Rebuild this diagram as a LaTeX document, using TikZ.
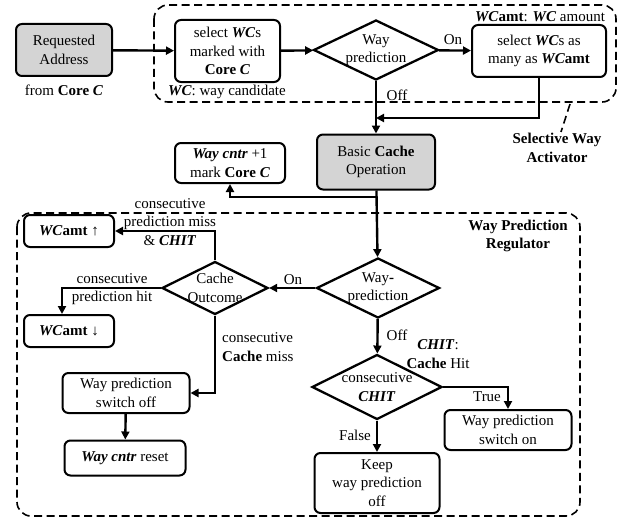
\documentclass[tikz,border=0pt]{standalone}
\usepackage{fontspec}
\setmainfont{Liberation Serif}
\usetikzlibrary{shapes.geometric,arrows.meta}
\newcommand{\bi}[1]{\textbf{\textit{#1}}}
\begin{document}
\begin{tikzpicture}[x=1pt,y=-1pt,
  every node/.style={font=\fontsize{15}{18.5}\selectfont, align=center, inner sep=1pt},
  blk/.style={draw, rounded corners=6pt, line width=2pt, inner sep=2pt},
  dec/.style={draw, diamond, line width=2.3pt, inner sep=0pt},
  arr/.style={line width=2.4pt, -{Triangle[length=8pt,width=8pt]}},
  grp/.style={line width=1.6pt, dash pattern=on 8pt off 4.5pt, rounded corners=14pt}]

        \useasboundingbox (0,0) rectangle (621,519);

        % dashed groups
        \draw[grp] (154,5) rectangle (616,102);
        \draw[grp] (570,104) -- (561,132);
        \draw[grp] (17,213) rectangle (580,516);

        % selective way activator
        \begin{scope}[every node/.append style={blk}]
          \node[fill=black!17, minimum width=96, minimum height=52] (req) at (64,50) {Requested\\Address};
          \node[minimum width=105, minimum height=62] (selwc) at (227.5,51) {select \bi{WC}s\\marked with\\\textbf{Core \textit{C}}};
          \node[minimum width=134, minimum height=52] (selamt) at (539,51) {select \bi{WC}s as\\many as \bi{WC}\textbf{amt}};
          \node[fill=black!17, minimum width=118, minimum height=55] (basic) at (376,162) {Basic \textbf{Cache}\\Operation};
          \node[minimum width=110, minimum height=40] (cntr) at (230,163) {\bi{Way cntr} +1\\mark \textbf{Core \textit{C}}};
        \end{scope}
        \node[dec, minimum width=125, minimum height=60, label={[name=wp1t]center:Way\\prediction}] (wp1) at (376,50) {};

        \node (from) at (64,90) {from \textbf{Core \textit{C}}};
        \node (wcnote) at (227,92) {\bi{WC}: way candidate};
        \node (amtnote) at (540,17) {\bi{WC}\textbf{amt}: \bi{WC} amount};
        \node (on1) at (453,40) {On};
        \node (off1) at (397,95) {Off};
        \node[font=\fontsize{15}{18.5}\selectfont\bfseries] (swa) at (557,148) {Selective Way\\Activator};

        % way prediction regulator
        \begin{scope}[every node/.append style={blk}]
          \node[minimum width=90, minimum height=32] (up) at (69,231) {\bi{WC}\textbf{amt ↑}};
          \node[minimum width=90, minimum height=32] (down) at (69,331) {\bi{WC}\textbf{amt ↓}};
          \node[minimum width=127, minimum height=40] (wpoff) at (126,393) {Way prediction\\switch off};
          \node[minimum width=121, minimum height=35] (reset) at (125,458) {\bi{Way cntr} reset};
          \node[minimum width=127, minimum height=40] (wpon) at (508,430) {Way prediction\\switch on};
          \node[minimum width=125, minimum height=60] (keep) at (377,483) {Keep\\way prediction\\off};
        \end{scope}
        \node[dec, minimum width=123, minimum height=60, label={[name=wp2t]center:Way\textbf{-}\\prediction}] (wp2) at (378,288) {};
        \node[dec, minimum width=106, minimum height=53, label={[name=cot]center:Cache\\Outcome}] (co) at (215,288) {};
        \node[dec, minimum width=130, minimum height=65, label={[name=chitt]center:consecutive\\\bi{CHIT}}] (chit) at (377,387) {};

        \node[font=\fontsize{15}{18.5}\selectfont\bfseries] (wpr) at (518,236) {Way Prediction\\Regulator};
        \node (missl) at (170,222) {consecutive\\prediction miss\\\& \bi{CHIT}};
        \node (hitl) at (112,289) {consecutive\\prediction hit};
        \node[align=left, anchor=west] (cmissl) at (221,347) {consecutive\\\textbf{Cache} miss};
        \node (on2) at (293,280) {On};
        \node (off2) at (397,335) {Off};
        \node (chitnote) at (438,354) {\bi{CHIT}:\\\textbf{Cache} Hit};
        \node (truel) at (487,397) {True};
        \node (falsel) at (355,435) {False};

        \coordinate (j1) at (376,118);
        \coordinate (j2) at (376,197);

        % connectors
        \draw[arr] (req) -- (selwc);
        \draw[arr] (selwc) -- (wp1);
        \draw[arr] (wp1) -- (selamt);
        \draw[arr] (wp1) -- (basic);
        \draw[arr] (selamt.south) |- (j1);
        \draw[arr] (j2) -| (cntr.south);
        \draw[arr] (basic) -- (wp2);
        \draw[arr] (wp2) -- (co);
        \draw[arr] (co.north) |- (up.east);
        \draw[arr] (co.west) -| ([xshift=-7]down.north);
        \draw[arr] (co.south) |- (wpoff.east);
        \draw[arr] (wpoff) -- (reset);
        \draw[arr] (wp2) -- (chit);
        \draw[arr] (chit.east) -| (wpon.north);
        \draw[arr] (chit) -- (keep);

      \end{tikzpicture}
\end{document}
